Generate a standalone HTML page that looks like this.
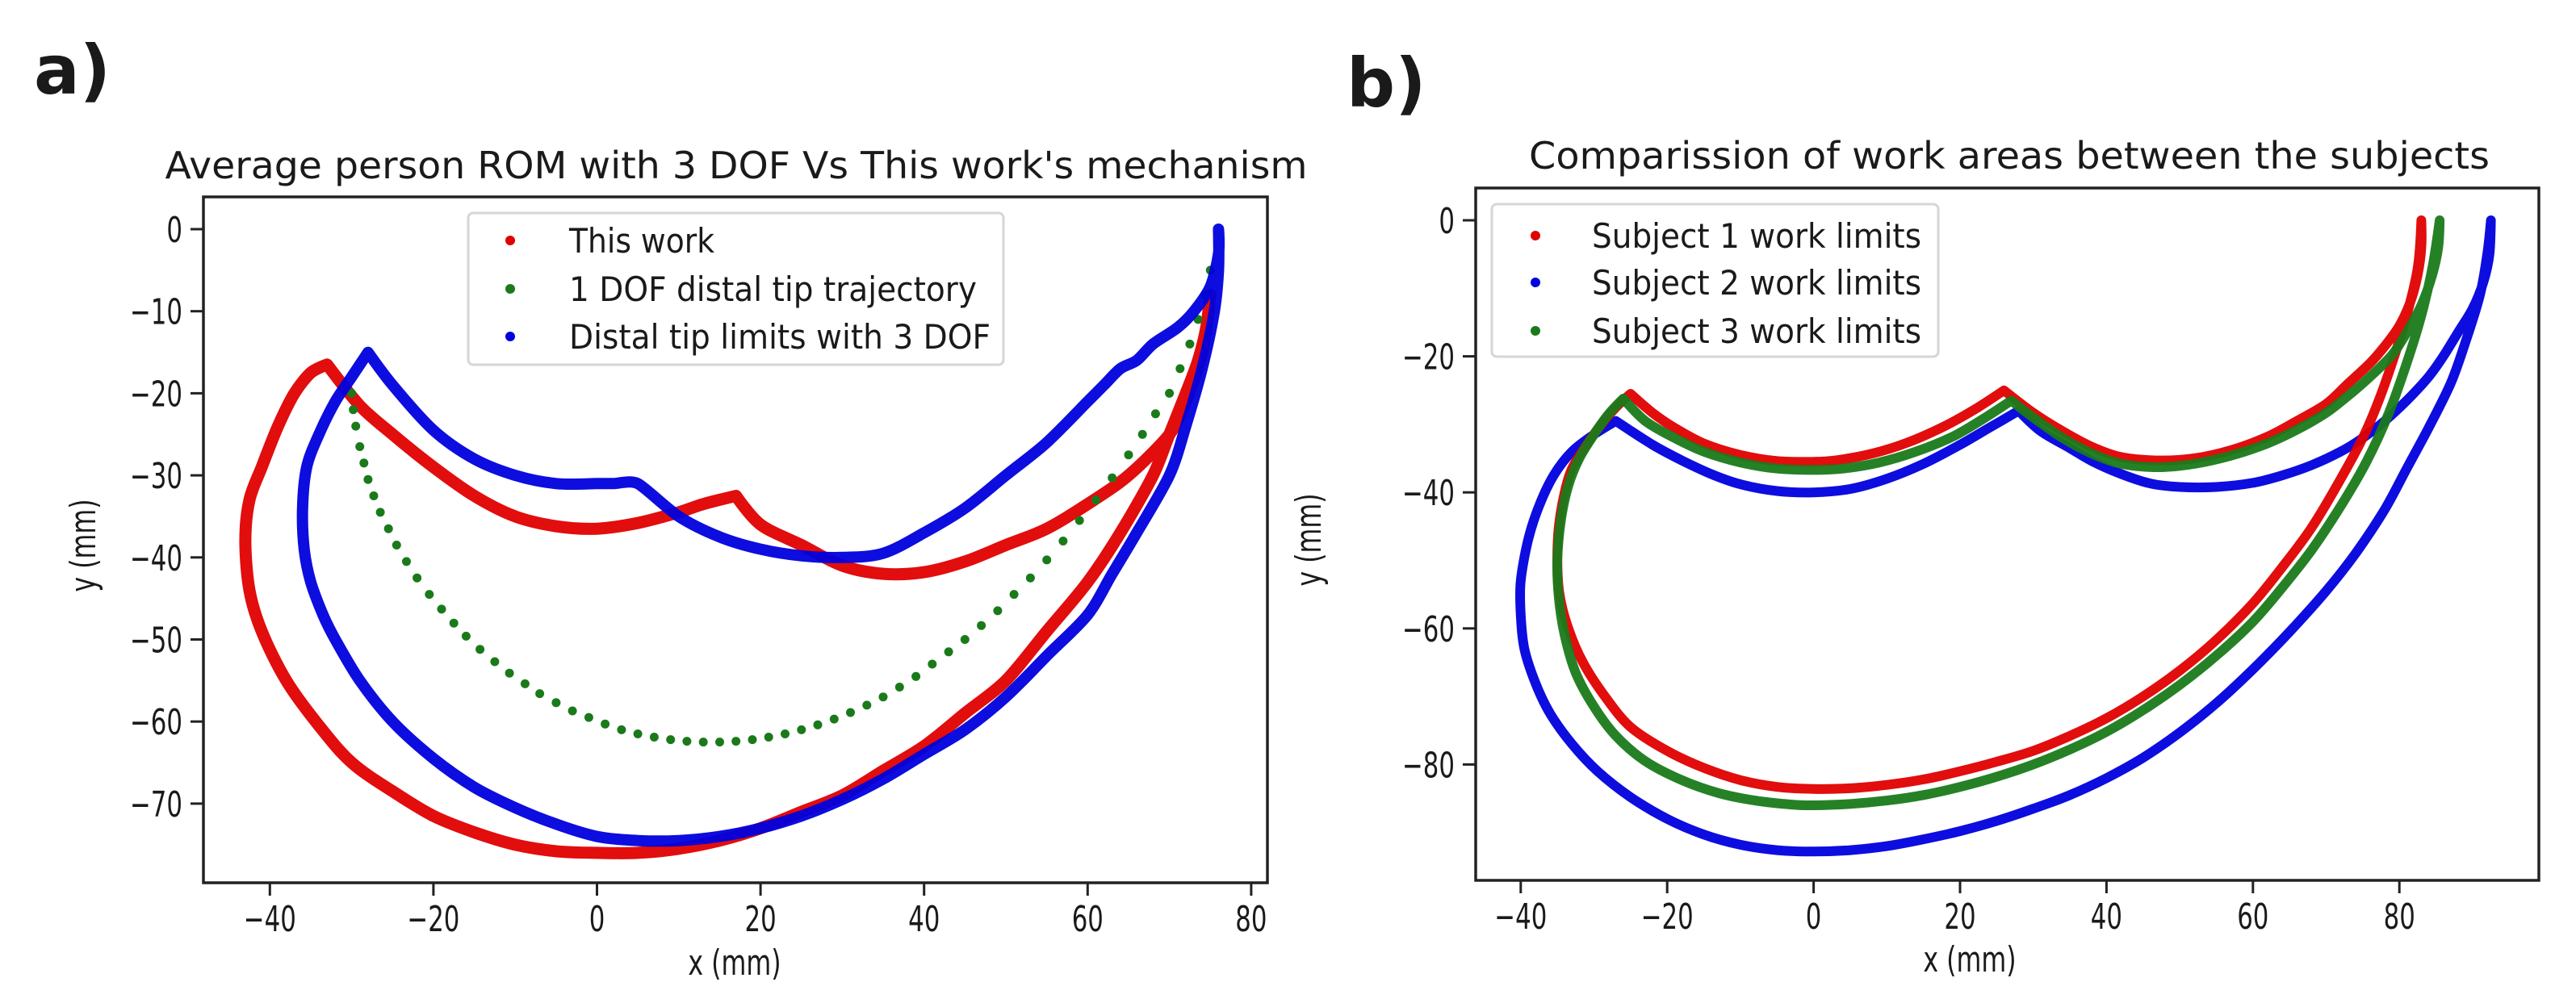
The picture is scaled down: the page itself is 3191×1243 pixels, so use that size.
<!DOCTYPE html>
<html><head><meta charset="utf-8"><style>
html,body{margin:0;padding:0;background:#fff;width:3191px;height:1243px;overflow:hidden}
svg text{font-family:"DejaVu Sans","Liberation Sans",sans-serif;fill:#1a1a1a}
</style></head><body>
<svg id="fig" width="3191" height="1243" viewBox="0 0 3191 1243" xmlns="http://www.w3.org/2000/svg"></svg>
<script>
// ---------- Panel A data ----------
const aRedX=[75,74,72,70,65,60,55,50,45,40,35,30,25,20,17,13,10,5,0,-5,-10,-15,-20,-25,-29,-33,-35,-37,-39,-41,-42.5,-43,-42.5,-41,-38,-34,-30,-25,-20,-15,-10,-5,0,5,10,15,20,25,30,35,40,45,50,55,60,64,68,70,72,73.5,74.5,75];
const aRedY=[-8,-15,-21,-25,-30,-33.5,-36.5,-38.5,-40.5,-41.8,-42,-41,-38.5,-36,-32.5,-33.5,-34.5,-35.8,-36.5,-36.2,-35,-32.5,-29,-25,-21.5,-16.5,-17.5,-20,-24,-29,-33,-38,-44,-49,-55,-60.5,-65,-68.5,-71.5,-73.5,-75,-75.8,-76,-76,-75.5,-74.5,-73,-71,-69,-66,-63,-59,-55,-49,-43,-37,-30,-25,-20,-16,-12,-8];
const aBlueX=[76,76,75,73,71,68,66,64,62,60,55,50,45,40,35,30,25,20,15,10,5,2,0,-5,-10,-15,-20,-25,-28,-30,-32,-34,-35.5,-36,-35.8,-35,-33.5,-32,-29,-25,-20,-15,-10,-5,0,5,10,15,20,25,30,35,40,45,50,55,60,63,66,70,72,74,75.5,76,76];
const aBlueY=[0,-3,-7,-10,-12,-14,-16,-17,-19,-21,-26,-30,-34,-37,-39.5,-40,-39.8,-39,-37.5,-35,-31,-31,-31,-31,-30,-28,-24.5,-19,-15,-18,-21,-25,-29,-34,-39,-43,-47,-50,-55,-60,-64.5,-68,-70.5,-72.5,-74,-74.5,-74.5,-74,-73,-71.5,-69.5,-67,-64,-61,-57,-52,-47,-42,-37,-30,-24,-17,-10,-5,0];
const aGreenX=[-30,-29.8,-29.5,-29,-28.5,-28,-27.3,-26.5,-25.5,-24.5,-23.3,-22,-20.5,-19,-17.5,-16,-14.3,-12.5,-10.7,-8.8,-7,-5,-3,-1,1,3,5,7,9,11,13,15,17,19,21,23,25,27,29,31,33,35,37,39,41,43,45,47,49,51,53,55,57,59,61,63,65,66.7,68.3,70,71.3,72.5,73.5,74.3,75];
const aGreenY=[-20,-22,-24,-26.5,-28.5,-30.5,-32.5,-34.5,-36.5,-38.5,-40.5,-42.5,-44.5,-46.3,-48,-49.6,-51.2,-52.7,-54.1,-55.4,-56.6,-57.7,-58.7,-59.5,-60.3,-61,-61.5,-61.9,-62.2,-62.4,-62.5,-62.5,-62.4,-62.2,-61.9,-61.5,-61,-60.4,-59.7,-58.9,-58,-57,-55.8,-54.5,-53,-51.5,-50,-48.3,-46.5,-44.5,-42.5,-40.3,-38,-35.5,-33,-30.3,-27.5,-25,-22.5,-20,-17,-14,-11,-8,-5];
const aXTicks=[-40,-20,0,20,40,60,80];
const aYTicks=[0,-10,-20,-30,-40,-50,-60,-70];
// ---------- Panel B data ----------
const bRedX=[83,83,82.5,81.5,80,78,76,73,70,66,62,57,52,47,42,38,34,30,26,22,18,13,8,3,0,-5,-10,-15,-19,-22,-25,-27,-29,-31,-33,-34,-34.8,-35,-34.7,-33.5,-31.5,-28.5,-25,-20,-15,-10,-5,0,5,10,15,20,25,30,35,40,45,50,55,60,64,68,72,75,77,79,81,82.5,83];
const bRedY=[0,-4,-8,-12,-15.5,-18.5,-21,-24,-27,-29.5,-31.8,-33.8,-35,-35.3,-34.8,-33.3,-31,-28.3,-25,-27.8,-30.2,-32.6,-34.3,-35.3,-35.5,-35.4,-34.5,-32.8,-30.5,-28.3,-25.5,-27.5,-30,-33,-36.5,-40,-45,-50,-55,-60,-65,-70,-74.5,-78,-80.5,-82.3,-83.3,-83.6,-83.5,-83,-82.2,-81,-79.6,-78,-75.8,-73.2,-70,-66.2,-61.7,-56.3,-51,-45.2,-38,-32,-27,-21,-14,-7,0];
const bBlueX=[92.5,92.3,91.5,90,88,86,84,81,78,75,72,68,64,60,55,50,46,42,38,35,31,28,24,20,15,10,5,0,-5,-10,-14,-18,-22,-27,-30,-33,-35.5,-37.5,-39,-40,-40,-39.5,-38,-36,-33,-29.5,-25,-20,-15,-10,-5,0,5,10,15,20,25,30,35,40,45,50,55,60,65,70,74,78,81,84,87,89,91,92,92.5];
const bBlueY=[0,-5,-9,-13,-16.5,-20,-23,-26.5,-29.5,-32,-34,-36,-37.5,-38.6,-39.2,-39.2,-38.7,-37.3,-35.4,-33.5,-31,-28,-30.5,-33,-35.8,-38,-39.5,-40,-39.8,-38.8,-37.3,-35.3,-33,-29.5,-31.5,-34,-37.5,-42,-47,-53,-58,-63,-68,-72.5,-77,-81,-84.8,-88,-90.3,-91.8,-92.6,-92.8,-92.6,-92,-91,-89.8,-88.3,-86.5,-84.5,-82,-79,-75.3,-71,-66,-60.5,-54.5,-49,-42.5,-36.5,-30.5,-24,-18,-11,-5,0];
const bGreenX=[85.5,85.3,84.5,83,81,79,76,73,70,66,62,57,52,47,42,38,34,30,27,23,19,14,9,4,0,-5,-10,-15,-19,-23,-26,-28,-30,-32,-33.5,-34.5,-35,-34.8,-34,-32.5,-30,-27,-23,-18,-13,-8,-3,0,5,10,15,20,25,30,35,40,45,50,55,60,64,68,72,75.5,78.5,81,83,84.5,85.5];
const bGreenY=[0,-4,-8,-12.5,-16.5,-19.8,-23,-25.8,-28.3,-30.8,-32.8,-34.6,-35.8,-36.3,-35.8,-34.3,-32,-29,-26.5,-29.3,-31.8,-34,-35.6,-36.5,-36.7,-36.5,-35.6,-34,-32,-29.5,-26.2,-28.5,-31.5,-35,-39,-44,-50,-55.5,-61,-66.5,-71.5,-75.8,-79.5,-82.3,-84.2,-85.3,-85.9,-86,-85.8,-85.3,-84.5,-83.3,-81.8,-80,-77.8,-75.2,-72,-68.3,-64,-59,-54,-48.5,-42,-35.5,-28.5,-21,-14,-7,0];
const bXTicks=[-40,-20,0,20,40,60,80];
const bYTicks=[0,-20,-40,-60,-80];

const NS="http://www.w3.org/2000/svg";
const svg=document.getElementById('fig');
function mk(tag,attrs,parent){const e=document.createElementNS(NS,tag);for(const k in attrs)e.setAttribute(k,attrs[k]);(parent||svg).appendChild(e);return e;}
function txt(s,x,y,size,anchor,ratio,parent,weight){
  const t=mk('text',{x:x,y:y,'font-size':size,'text-anchor':anchor||'start'},parent);
  if(weight)t.setAttribute('font-weight',weight);
  t.textContent=s;
  const w=t.getComputedTextLength();
  if(ratio&&w>0){t.setAttribute('textLength',(w*ratio).toFixed(1));t.setAttribute('lengthAdjust','spacingAndGlyphs');}
  return t;
}
function smoothPath(P){
  const n=P.length;let d='M'+P[0][0].toFixed(1)+','+P[0][1].toFixed(1);
  const tan=i=>{
    if(i===0||i===n-1)return [0,0];
    const ax=P[i][0]-P[i-1][0],ay=P[i][1]-P[i-1][1],bx=P[i+1][0]-P[i][0],by=P[i+1][1]-P[i][1];
    const la=Math.hypot(ax,ay)||1,lb=Math.hypot(bx,by)||1;
    const cos=(ax*bx+ay*by)/(la*lb);
    if(cos<0.75)return [0,0];
    const m=Math.min(la,lb)/3, tx=P[i+1][0]-P[i-1][0], ty=P[i+1][1]-P[i-1][1], lt=Math.hypot(tx,ty)||1;
    return [tx/lt*m, ty/lt*m];
  };
  for(let i=0;i<n-1;i++){
    const t0=tan(i),t1=tan(i+1);
    d+=' C'+(P[i][0]+t0[0]).toFixed(1)+','+(P[i][1]+t0[1]).toFixed(1)+' '+(P[i+1][0]-t1[0]).toFixed(1)+','+(P[i+1][1]-t1[1]).toFixed(1)+' '+P[i+1][0].toFixed(1)+','+P[i+1][1].toFixed(1);
  }
  return d;
}

function panel(cfg){
  const g=mk('g',{});
  
  
  const sx=v=>cfg.x0+v*cfg.kx, sy=v=>cfg.y0-v*cfg.ky;
  cfg.series.forEach(s=>{
    if(s.dots){
      const sg=mk('g',{fill:s.color},g);
      
      
      s.xs.forEach((v,i)=>{
        const c=mk('circle',{cx:sx(v).toFixed(1),cy:sy(s.ys[i]).toFixed(1),r:5.5},sg);
        
        
      });
    } else {
      const P=s.xs.map((v,i)=>[sx(v),sy(s.ys[i])]);
      const p=mk('path',{d:smoothPath(P),fill:'none',stroke:s.color,'stroke-width':s.w,'stroke-linejoin':'round','stroke-linecap':'round','stroke-opacity':0.95},g);
      
      
    }
  });
  const f=mk('rect',{x:cfg.L,y:cfg.T,width:cfg.Rr-cfg.L,height:cfg.B-cfg.T,fill:'none',stroke:'#222','stroke-width':3.5},g);
  
  
  cfg.xt.forEach(v=>{
    const X=sx(v);
    const l=mk('line',{x1:X,x2:X,y1:cfg.B,y2:cfg.B+16,stroke:'#222','stroke-width':3},g);
    
    
    const t=txt(v<0?'\u2212'+(-v):''+v,X,cfg.B+60,44,'middle',0.7,g);
    
    
  });
  cfg.yt.forEach(v=>{
    const Y=sy(v);
    const l=mk('line',{x1:cfg.L-16,x2:cfg.L,y1:Y,y2:Y,stroke:'#222','stroke-width':3},g);
    
    
    const t=txt(v<0?'\u2212'+(-v):''+v,cfg.L-26,Y+16,44,'end',0.7,g);
    
    
  });
  const tt=txt(cfg.title,cfg.titleX,cfg.titleY,46,'middle',null,g);
  tt.setAttribute('textLength',cfg.titleW);tt.setAttribute('lengthAdjust','spacingAndGlyphs');
  
  
  const xl=txt('x (mm)',cfg.xlX,cfg.xlY,44,'middle',0.72,g);
  
  
  const yl=txt('y (mm)',0,0,44,'middle',0.72,g);
  yl.setAttribute('transform','translate('+cfg.ylX+','+cfg.ylY+') rotate(-90)');
  
  
  const lg=mk('g',{},g);
  
  
  const lr=mk('rect',{x:cfg.leg.x,y:cfg.leg.y,width:cfg.leg.w,height:cfg.leg.h,rx:6,fill:'#fff','fill-opacity':0.85,stroke:'#d6d6d6','stroke-width':3},lg);
  
  
  cfg.leg.items.forEach((it,i)=>{
    const Y=cfg.leg.rows[i];
    const c=mk('circle',{cx:cfg.leg.mx,cy:Y,r:6,fill:it.color},lg);
    
    
    const t=txt(it.label,cfg.leg.tx,Y+15,42,'start',null,lg);
    t.setAttribute('textLength',it.w);t.setAttribute('lengthAdjust','spacingAndGlyphs');
    
    
  });
}

panel({name:'panel-a-chart',x0:739.5,kx:10.13,y0:284,ky:10.17,L:252,Rr:1570,T:244,B:1094,
  xt:aXTicks,yt:aYTicks,
  series:[
    {id:'this-work-series',xs:aRedX,ys:aRedY,color:'#e00000',w:15},
    {id:'one-dof-trajectory-series',xs:aGreenX,ys:aGreenY,color:'#1a7a1a',dots:true},
    {id:'three-dof-limits-series',xs:aBlueX,ys:aBlueY,color:'#0000dd',w:14}
  ],
  title:"Average person ROM with 3 DOF Vs This work's mechanism",titleX:912,titleY:221,titleW:1415,
  xlX:910,xlY:1208,ylX:118,ylY:676,
  leg:{x:580,y:264,w:663,h:188,mx:632,tx:705,rows:[298,358,417],items:[
    {label:'This work',color:'#e00000',w:180},
    {label:'1 DOF distal tip trajectory',color:'#1a7a1a',w:505},
    {label:'Distal tip limits with 3 DOF',color:'#0000dd',w:522}]}
});
panel({name:'panel-b-chart',x0:2246.6,kx:9.07,y0:273,ky:8.43,L:1828,Rr:3145,T:233,B:1091,
  xt:bXTicks,yt:bYTicks,
  series:[
    {id:'subject-2-series',xs:bBlueX,ys:bBlueY,color:'#0000dd',w:12},
    {id:'subject-1-series',xs:bRedX,ys:bRedY,color:'#e00000',w:12},
    {id:'subject-3-series',xs:bGreenX,ys:bGreenY,color:'#1a7a1a',w:12}
  ],
  title:'Comparission of work areas between the subjects',titleX:2489,titleY:209,titleW:1190,
  xlX:2440,xlY:1204,ylX:1636,ylY:669,
  leg:{x:1848,y:253,w:553,h:189,mx:1902,tx:1972,rows:[292,350,410],items:[
    {label:'Subject 1 work limits',color:'#e00000',w:408},
    {label:'Subject 2 work limits',color:'#0000dd',w:408},
    {label:'Subject 3 work limits',color:'#1a7a1a',w:408}]}
});
const pa=txt('a)',42,116,84,'start',null,svg,'bold');


const pb=txt('b)',1668,132,84,'start',null,svg,'bold');


</script>
</body></html>
